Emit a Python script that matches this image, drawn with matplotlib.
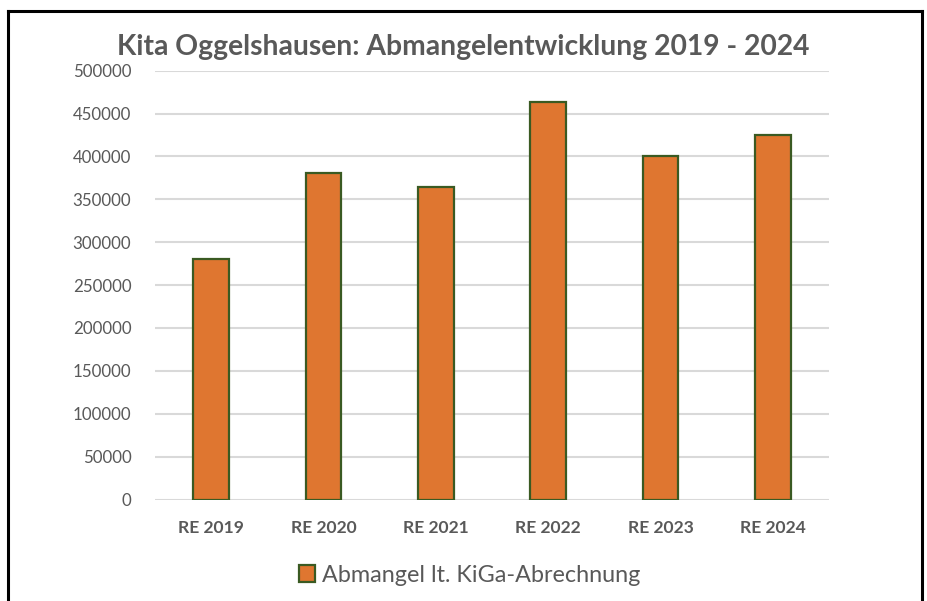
import matplotlib.pyplot as plt
from matplotlib.lines import Line2D

# ----------------------------
# Data
# ----------------------------
categories = ["RE 2019", "RE 2020", "RE 2021", "RE 2022", "RE 2023", "RE 2024"]
abmangel = [280000, 381000, 364000, 463000, 400500, 424500]
yticks = [0, 50000, 100000, 150000, 200000, 250000, 300000, 350000, 400000, 450000, 500000]

# ----------------------------
# Plot styling
# ----------------------------
plt.rcParams["font.family"] = ["Lato", "DejaVu Sans"]
text_grey = "#595959"
bar_color = "#DF7630"
edge_color = "#3A5A22"

fig = plt.figure(figsize=(9.28, 6.01), dpi=100)
ax = fig.add_axes([155 / 928, 1 - 499.5 / 601, 674 / 928, (499.5 - 70.7) / 601])

x = range(len(categories))
ax.bar(x, abmangel, width=0.32, color=bar_color, edgecolor=edge_color,
       linewidth=1.6, zorder=3, label="Abmangel lt. KiGa-Abrechnung")

ax.set_xlim(-0.5, len(categories) - 0.5)
ax.set_ylim(0, 500000)
ax.set_yticks(yticks)
ax.set_yticklabels([str(v) for v in yticks], fontsize=12.2, color=text_grey)
ax.set_xticks(list(x))
ax.set_xticklabels(categories, fontsize=12.6, fontweight="bold", color=text_grey)
ax.tick_params(axis="both", length=0)
ax.tick_params(axis="y", pad=17)
ax.tick_params(axis="x", pad=15)

ax.grid(axis="y", color="#d9d9d9", linewidth=1.5, zorder=0)
for s in ["top", "right", "left", "bottom"]:
    ax.spines[s].set_visible(False)

fig.text(0.5 * (122 + 805) / 928, 1 - 47 / 601,
         "Kita Oggelshausen: Abmangelentwicklung 2019 - 2024",
         ha="center", va="center", fontsize=20.3, fontweight="bold", color=text_grey)

leg = fig.legend(loc="center", bbox_to_anchor=(470 / 928, 1 - 575 / 601),
                 frameon=False, fontsize=16.8, handlelength=0.7, handleheight=0.7,
                 handletextpad=0.3, labelcolor=text_grey)

# outer frame of the screenshot
lw = 2.2
fig.add_artist(Line2D([8 / 928, 8 / 928], [0, 1 - 11 / 601], color="black", lw=lw))
fig.add_artist(Line2D([8 / 928, 922 / 928], [1 - 11 / 601, 1 - 11 / 601], color="black", lw=lw))
fig.add_artist(Line2D([922 / 928, 922 / 928], [0, 1 - 11 / 601], color="black", lw=lw))

plt.savefig("out.png", dpi=100)
